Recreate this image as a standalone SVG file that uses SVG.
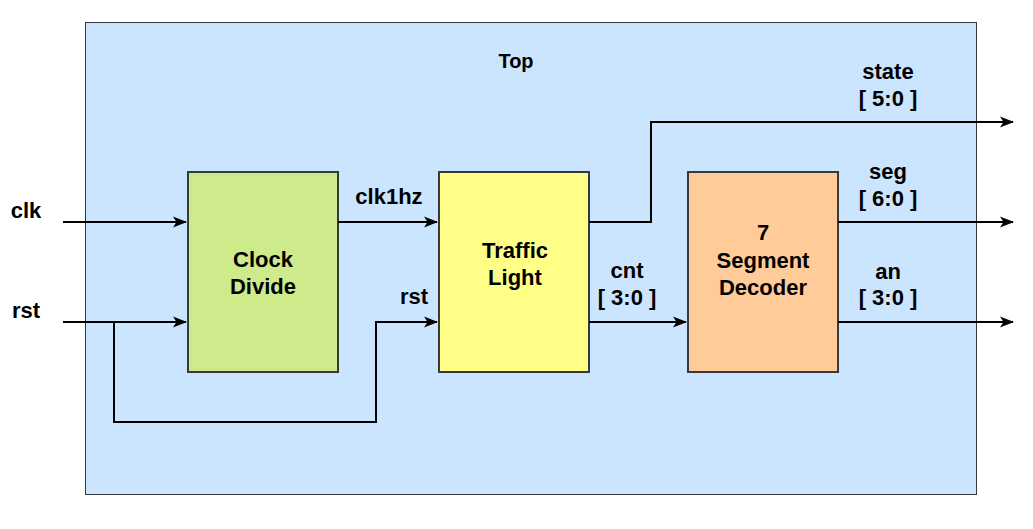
<svg xmlns="http://www.w3.org/2000/svg" width="1033" height="529" viewBox="0 0 1033 529">
<style>
.t{font-family:"Liberation Sans",Arial,sans-serif;font-weight:bold;font-size:22px;fill:#000;text-anchor:middle}
.blk{stroke:#36393d;stroke-width:2}
.w{fill:none;stroke:#000;stroke-width:2}
</style>
<defs>
<marker id="ah" markerWidth="14" markerHeight="12" refX="13" refY="6" orient="auto" markerUnits="userSpaceOnUse">
<path d="M0,0.5 L14,6 L0,11.5 L3.5,6 Z" fill="#000"/>
</marker>
</defs>
<rect width="1033" height="529" fill="#fff"/>
<g id="top">
<rect x="85.5" y="22.5" width="891" height="472" fill="#cce5ff" stroke="#36393d" stroke-width="1"/>
<text class="t" x="516" y="68" style="font-size:20px">Top</text>
</g>
<g id="clock-divide">
<rect class="blk" x="188" y="172" width="150" height="200" fill="#cdeb8b"/>
<text class="t" x="263" y="267">Clock</text>
<text class="t" x="263" y="294">Divide</text>
</g>
<g id="traffic-light">
<rect class="blk" x="439" y="172" width="150" height="200" fill="#ffff88"/>
<text class="t" x="515" y="258">Traffic</text>
<text class="t" x="515" y="285">Light</text>
</g>
<g id="seg-decoder">
<rect class="blk" x="688" y="172" width="150" height="200" fill="#ffcc99"/>
<text class="t" x="763" y="240">7</text>
<text class="t" x="763" y="268">Segment</text>
<text class="t" x="763" y="295">Decoder</text>
</g>
<g id="connectors">
<path class="w" d="M63,222 H186" marker-end="url(#ah)"/>
<path class="w" d="M63,322 H186" marker-end="url(#ah)"/>
<path class="w" d="M114,322 V422 H376 V322 H437" marker-end="url(#ah)"/>
<path class="w" d="M338,222 H437" marker-end="url(#ah)"/>
<path class="w" d="M589,322 H686" marker-end="url(#ah)"/>
<path class="w" d="M589,222 H651 V122 H1013" marker-end="url(#ah)"/>
<path class="w" d="M838,222 H1013" marker-end="url(#ah)"/>
<path class="w" d="M838,322 H1013" marker-end="url(#ah)"/>
</g>
<g id="labels">
<text class="t" x="26" y="218">clk</text>
<text class="t" x="26" y="318">rst</text>
<text class="t" x="389" y="204">clk1hz</text>
<text class="t" x="414" y="304">rst</text>
<text class="t" x="627" y="278">cnt</text>
<text class="t" x="627" y="305">[ 3:0 ]</text>
<text class="t" x="888" y="79">state</text>
<text class="t" x="888" y="106">[ 5:0 ]</text>
<text class="t" x="888" y="179">seg</text>
<text class="t" x="888" y="206">[ 6:0 ]</text>
<text class="t" x="888" y="279">an</text>
<text class="t" x="888" y="305">[ 3:0 ]</text>
</g>
</svg>
